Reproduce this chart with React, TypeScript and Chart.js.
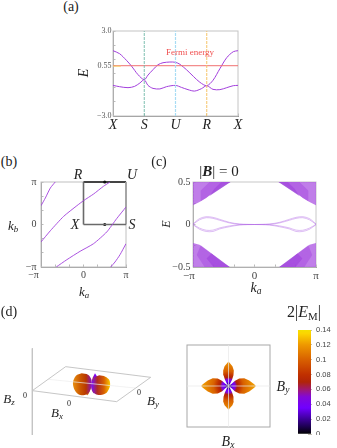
import React, { useEffect, useRef } from "react";
import { Chart, registerables } from "chart.js";

Chart.register(...registerables);

const PI = Math.PI;
const SERIF = '"Liberation Serif", "DejaVu Serif", serif';
const SANS = '"Liberation Sans", sans-serif';
const PURPLE = "#a23fdc";

/* ---------- panel (a) ---------- */
const pathLabels = ["X", "S", "U", "R", "X"];
const pathTicks = [0, 1, 2, 3, 4];
const energyTicks = [-3, -2, -1, 0, 0.55, 1, 2, 3];
const energyLabelled = [-3, 0.55, 3];
const fermi = 0.55;
const upperT = [0, 0.21, 0.43, 0.59, 0.8, 1, 1.12, 1.28, 1.44, 1.6, 1.82, 2, 2.14, 2.35, 2.57, 2.78, 3, 3.2, 3.42, 3.64, 3.85, 4];
const upperE = [1.61, 1.4, 0.93, 0.53, -0.08, -0.44, -0.11, 0.27, 0.62, 0.76, 0.81, 0.79, 0.65, 0.27, -0.2, -0.62, -0.86, -0.48, 0.34, 1.12, 1.54, 1.61];
const lowerT = [0, 0.21, 0.48, 0.69, 0.86, 1, 1.12, 1.28, 1.5, 1.71, 2, 2.19, 2.4, 2.61, 2.83, 3, 3.2, 3.42, 3.64, 3.85, 4];
const lowerE = [-0.84, -0.93, -1, -0.91, -0.67, -0.44, -0.84, -1.05, -1.09, -0.93, -0.84, -0.98, -1.14, -1.24, -1.07, -0.86, -1.12, -1.14, -1, -0.86, -0.84];

/* ---------- panel (b) ---------- */
const kTicks = [-PI, (-2 * PI) / 3, -PI / 3, 0, PI / 3, (2 * PI) / 3, PI];
const curve1A = [-3.14, -2.82, -2.45, -2.09];
const curve1B = [1.39, 1.96, 2.7, 3.14];
const curve2A = [-3.14, -2.45, -1.47, -0.49, 0, 0.74, 1.47, 1.96];
const curve2B = [-1.29, -0.46, 0.6, 1.39, 1.76, 2.25, 2.82, 3.14];
const curve3A = [-2.01, -1.23, -0.25, 0.74, 1.72, 2.45, 3.14];
const curve3B = [-3.14, -2.6, -1.98, -1.42, -0.55, 0.43, 1.29];
const curve4A = [2.01, 2.33, 2.7, 3.14];
const curve4B = [-3.14, -2.77, -2.23, -1.42];

/* ---------- panel (c) ---------- */
const cEnergyTicks = [-0.5, -0.25, 0, 0.25, 0.5];
const topEdgeK = [-3.1416, -2.81, -2.465, -2.12, -1.78, -1.52, -1.23];
const topEdgeE = [0.225, 0.265, 0.312, 0.378, 0.437, 0.476, 0.5];
const botEdgeK = [-3.1416, -2.81, -2.465, -2.12, -1.78, -1.27];
const botEdgeE = [-0.218, -0.237, -0.296, -0.355, -0.433, -0.5];
const topMidK = [-2.75, -1.23, -2.3, -2.75];
const topMidE = [0.275, 0.5, 0.5, 0.4];
const topDarkK = [-2.3, -1.23, -1.7, -2.05];
const topDarkE = [0.335, 0.5, 0.5, 0.42];
const botMidK = [-2.75, -1.27, -2.55, -2.95];
const botMidE = [-0.245, -0.5, -0.5, -0.36];
const botDarkK = [-2.2, -1.27, -2.1, -2.45];
const botDarkE = [-0.34, -0.5, -0.5, -0.4];
const speckK = [-3.1416, -2.6, -2.1, -1.6];
const speckTop = [
  [0.25, 0.32, 0.42, 0.5],
  [0.29, 0.35, 0.45, 0.5],
  [0.32, 0.38, 0.47, 0.5],
  [0.36, 0.42, 0.5, 0.5],
  [0.4, 0.45, 0.5, 0.5],
  [0.44, 0.48, 0.5, 0.5],
  [0.47, 0.5, 0.5, 0.5],
];
const speckBot = [
  [-0.24, -0.3, -0.41, -0.5],
  [-0.28, -0.33, -0.44, -0.5],
  [-0.31, -0.36, -0.47, -0.5],
  [-0.35, -0.4, -0.5, -0.5],
  [-0.39, -0.44, -0.5, -0.5],
  [-0.43, -0.47, -0.5, -0.5],
  [-0.47, -0.5, -0.5, -0.5],
];
const edgeK = [-3.1416, -2.81, -2.465, -2.12, -1.78, -1.27, -0.753, 0];
const edgeUpperOuter = [0.006, 0.069, 0.092, 0.084, 0.061, 0.025, 0.006, 0];
const edgeUpperInner = [0.002, 0.055, 0.08, 0.072, 0.05, 0.018, 0.002, 0];
const edgeLowerOuter = [-0.002, -0.056, -0.082, -0.082, -0.052, -0.026, -0.006, 0];
const edgeLowerInner = [0.002, -0.042, -0.068, -0.066, -0.04, -0.016, -0.002, 0];

/* ---------- colour scale ---------- */
const scaleValues = [0, 0.01, 0.02, 0.035, 0.05, 0.06, 0.07, 0.08, 0.1, 0.12, 0.135, 0.14];
const scaleColours = ["#000000", "#1c0050", "#3c0098", "#7000ff", "#8208d8", "#a01870", "#b02408", "#c03000", "#d86000", "#ee9800", "#fcd400", "#f4e000"];
const scaleTicks = [0, 0.02, 0.04, 0.06, 0.08, 0.1, 0.12, 0.14];
const scaleTop = 0.14;

/* ---------- panel (d), top view ---------- */
const petalRightX = [0, 0.07, 0.15, 0.258, 0.38, 0.5, 0.62, 0.66, 0.62, 0.5, 0.38, 0.258, 0.15, 0.07, 0];
const petalRightY = [0, -0.05, -0.125, -0.18, -0.19, -0.135, -0.04, 0, 0.04, 0.135, 0.19, 0.18, 0.125, 0.05, 0];
const petalLeftX = petalRightX.map((v) => -v);
const petalLeftY = petalRightY;
const petalTopX = [0, -0.045, -0.085, -0.12, -0.128, -0.095, -0.03, 0, 0.03, 0.095, 0.128, 0.12, 0.085, 0.045, 0];
const petalTopY = [0, 0.07, 0.15, 0.26, 0.38, 0.48, 0.56, 0.6, 0.56, 0.48, 0.38, 0.26, 0.15, 0.07, 0];
const petalBotX = petalTopX;
const petalBotY = [0, -0.07, -0.15, -0.26, -0.38, -0.47, -0.54, -0.58, -0.54, -0.47, -0.38, -0.26, -0.15, -0.07, 0];
const radialEnergy = [0, 0.02, 0.035, 0.05, 0.07, 0.08, 0.1, 0.12];
const radialDistance = [0, 0.05, 0.11, 0.16, 0.21, 0.26, 0.36, 0.6];

/* ---------- panel (d), perspective view ---------- */
const planeX = [97, 197, 452, 350, 97];
const planeY = [272, 200, 232, 305, 272];
const axisZX = [97, 97];
const axisZY = [145, 405];
const faintAX = [145, 405];
const faintAY = [238, 264];
const lobeLX = [245, 228, 219, 222, 233, 250, 266, 274, 274, 264];
const lobeLY = [220, 227, 246, 266, 281, 286, 278, 258, 238, 224];
const lobeRX = [298, 282, 274, 276, 286, 302, 320, 330, 328, 316];
const lobeRY = [226, 234, 252, 270, 282, 285, 278, 258, 240, 230];
const coreX = [285, 277, 274, 276, 283, 291, 293, 292];
const coreY = [220, 236, 256, 272, 280, 270, 250, 232];
const frontX = [262, 254, 251, 254, 262, 270, 274, 270];
const frontY = [232, 245, 260, 274, 286, 272, 258, 244];

/* ---------- helpers ---------- */
const pts = (xs: number[], ys: number[]) => xs.map((x, i) => ({ x, y: ys[i] }));
const neg = (xs: number[]) => xs.map((v) => -v);

function colourAt(v: number) {
  const i = scaleValues.findIndex((s) => s >= v);
  return scaleColours[i < 0 ? scaleColours.length - 1 : i];
}

const frame = {
  id: "frame",
  beforeDatasetsDraw(chart: any, _a: any, opts: any) {
    if (!opts.color) return;
    const { left, top, right, bottom } = chart.chartArea;
    const ctx = chart.ctx;
    ctx.save();
    ctx.strokeStyle = opts.color;
    ctx.lineWidth = opts.width ?? 1;
    ctx.strokeRect(left, top, right - left, bottom - top);
    ctx.restore();
  },
};
Chart.register(frame);

function axis(o: any) {
  const horiz = o.pos === "bottom";
  return {
    type: "linear",
    position: o.pos,
    min: o.min,
    max: o.max,
    reverse: !!o.reverse,
    display: o.display ?? true,
    afterBuildTicks: (s: any) => {
      s.ticks = o.ticks.map((value: number) => ({ value }));
    },
    afterFit: (s: any) => {
      if (horiz) s.height = o.thick;
      else s.width = o.thick;
      s.paddingLeft = s.paddingRight = s.paddingTop = s.paddingBottom = 0;
    },
    border: { color: o.border ?? "#999", width: o.borderWidth ?? 1 },
    grid: { drawOnChartArea: false, tickLength: -2.5, color: "#aaa", tickWidth: 0.8 },
    ticks: {
      autoSkip: false,
      maxRotation: 0,
      minRotation: 0,
      padding: o.padding ?? 5,
      color: o.color ?? "#444",
      font: { family: o.family ?? SERIF, size: o.size ?? 8, style: o.style ?? "normal" },
      callback: o.label,
    },
  };
}

function options(x: any, y: any, padding: any, framing: any) {
  return {
    responsive: false,
    maintainAspectRatio: false,
    animation: false,
    layout: { padding },
    plugins: { legend: { display: false }, tooltip: { enabled: false }, title: { display: false }, frame: framing },
    elements: { point: { radius: 0 } },
    scales: { x, y },
  };
}

const piLabel = (pad: string) => (v: number) => {
  if (Math.abs(v + PI) < 1e-6) return "\u2212\u03c0" + pad;
  if (Math.abs(v) < 1e-6) return "0";
  if (Math.abs(v - PI) < 1e-6) return "\u03c0";
  return "";
};

const line = (data: any[], color: string, width: number, extra: any = {}) => ({
  type: "scatter",
  data,
  showLine: true,
  borderColor: color,
  borderWidth: width,
  pointRadius: 0,
  ...extra,
});

const shape = (data: any[], fill: any, extra: any = {}) => ({
  type: "scatter",
  data,
  showLine: true,
  borderWidth: 0,
  borderColor: "transparent",
  backgroundColor: fill,
  fill: "shape",
  pointRadius: 0,
  ...extra,
});

/* ---------- chart configurations ---------- */
const configA = () => ({
  type: "scatter",
  data: {
    datasets: [
      line(pts([0, 0.25], [fermi - 0.03, fermi - 0.03]), "#f5d060", 1),
      line(pts([1, 1], [-3, 3]), "#6fb8a8", 0.9, { borderDash: [3, 1] }),
      line(pts([2, 2], [-3, 3]), "#a8dcf4", 1.2, { borderDash: [3, 1] }),
      line(pts([3, 3], [-3, 3]), "#f6c468", 1, { borderDash: [3, 1] }),
      line(pts([0, 4], [fermi, fermi]), "#f07070", 1),
      line(pts(upperT, upperE), PURPLE, 1, { tension: 0.3 }),
      line(pts(lowerT, lowerE), PURPLE, 1, { tension: 0.3 }),
    ],
  },
  options: options(
    axis({
      pos: "bottom", min: 0, max: 4, ticks: pathTicks, thick: 16, size: 14, style: "italic", color: "#222", padding: 3,
      label: (_v: number, i: number) => pathLabels[i], border: "#888",
    }),
    axis({
      pos: "left", min: -3, max: 3, ticks: energyTicks, thick: 28, size: 8, padding: 4, color: "#555",
      label: (v: number) => (energyLabelled.includes(v) ? (v < 0 ? "\u2212" + Math.abs(v).toFixed(1) : v === fermi ? String(v) : v.toFixed(1)) : ""),
    }),
    { left: 0, right: 12, top: 6, bottom: 0 },
    { color: "#c4c4c4" }
  ),
});

const configB = () => ({
  type: "scatter",
  data: {
    datasets: [
      line(pts(curve1A, curve1B), PURPLE, 0.9, { tension: 0.2 }),
      line(pts(curve2A, curve2B), PURPLE, 0.9, { tension: 0.2 }),
      line(pts(curve3A, curve3B), PURPLE, 0.9, { tension: 0.2 }),
      line(pts(curve4A, curve4B), PURPLE, 0.9, { tension: 0.2 }),
      line(pts([0, 0], [0, PI]), "#6a6a6a", 1.6, { clip: false }),
      line(pts([0, PI], [0, 0]), "#6a6a6a", 1.6, { clip: false }),
      line(pts([PI, PI], [0, PI]), "#a0a0a0", 1.8, { clip: false }),
      line(pts([0, PI], [PI, PI]), "#111", 1.4, { clip: false }),
      {
        type: "scatter",
        data: pts([PI / 2, PI / 2], [PI, 0]),
        pointRadius: 1.6,
        pointBackgroundColor: "#111",
        pointBorderWidth: 0,
        clip: false,
      },
    ],
  },
  options: options(
    axis({ pos: "bottom", min: -PI, max: PI, ticks: kTicks, thick: 16, size: 10, padding: 5, label: piLabel("      ") }),
    axis({ pos: "left", min: -PI, max: PI, ticks: kTicks, thick: 20, size: 10, padding: 7, label: piLabel("") }),
    { left: 0, right: 8, top: 6, bottom: 0 },
    { color: "#c0c0c0", width: 1 }
  ),
});

const SOFT = "rgba(168,76,224,0.72)";
const MID = "rgba(150,50,215,0.45)";
const DARK = "rgba(130,30,205,0.6)";
const WHITE = "rgba(255,255,255,0.42)";
const EDGE = "rgba(176,100,228,0.7)";

const configC = () => {
  const speck = (k: number[], rows: number[][]) =>
    rows.map((r) => line(pts(k, r), WHITE, 0.8, { borderDash: [1, 1.6] }));
  const closeTop = (k: number[], e: number[]) => pts([...k, k[k.length - 1], k[0], k[0]], [...e, 0.5, 0.5, e[0]]);
  const closeBot = (k: number[], e: number[]) => pts([...k, k[k.length - 1], k[0], k[0]], [...e, -0.5, -0.5, e[0]]);
  const edge = { tension: 0.3 };
  return {
    type: "scatter",
    data: {
      datasets: [
        shape(closeTop(topEdgeK, topEdgeE), SOFT),
        shape(closeTop(neg(topEdgeK), topEdgeE), SOFT),
        shape(closeBot(botEdgeK, botEdgeE), SOFT),
        shape(closeBot(neg(botEdgeK), botEdgeE), SOFT),
        shape(pts(topMidK, topMidE), MID),
        shape(pts(neg(topMidK), topMidE), MID),
        shape(pts(botMidK, botMidE), MID),
        shape(pts(neg(botMidK), botMidE), MID),
        shape(pts(topDarkK, topDarkE), DARK),
        shape(pts(neg(topDarkK), topDarkE), DARK),
        shape(pts(botDarkK, botDarkE), DARK),
        shape(pts(neg(botDarkK), botDarkE), DARK),
        ...speck(speckK, speckTop),
        ...speck(neg(speckK), speckTop),
        ...speck(speckK, speckBot),
        ...speck(neg(speckK), speckBot),
        line(pts(edgeK, edgeUpperOuter), EDGE, 0.6, edge),
        line(pts(edgeK, edgeUpperInner), EDGE, 0.6, edge),
        line(pts(edgeK, edgeLowerOuter), EDGE, 0.6, edge),
        line(pts(edgeK, edgeLowerInner), EDGE, 0.6, edge),
        line(pts(neg(edgeK), edgeUpperOuter), EDGE, 0.6, edge),
        line(pts(neg(edgeK), edgeUpperInner), EDGE, 0.6, edge),
        line(pts(neg(edgeK), edgeLowerOuter), EDGE, 0.6, edge),
        line(pts(neg(edgeK), edgeLowerInner), EDGE, 0.6, edge),
      ],
    },
    options: options(
      axis({ pos: "bottom", min: -PI, max: PI, ticks: kTicks, thick: 16, size: 11, padding: 5, label: piLabel("   ") }),
      axis({
        pos: "left", min: -0.5, max: 0.5, ticks: cEnergyTicks, thick: 32, size: 10, padding: 5,
        label: (v: number) => (v === 0 ? "0" : v === 0.5 ? "0.5" : v === -0.5 ? "\u22120.5" : ""),
      }),
      { left: 0, right: 8, top: 6, bottom: 0 },
      { color: "#c8c8c8" }
    ),
  };
};

const radialFill = (c: any) => {
  const { chart } = c;
  const area = chart.chartArea;
  if (!area) return "#c05000";
  const sx = chart.scales.x;
  const sy = chart.scales.y;
  const cx = sx.getPixelForValue(0);
  const cy = sy.getPixelForValue(0);
  const unit = sx.getPixelForValue(1) - cx;
  const outer = radialDistance[radialDistance.length - 1];
  const g = chart.ctx.createRadialGradient(cx, cy, 0, cx, cy, outer * unit);
  radialDistance.forEach((d, i) => g.addColorStop(d / outer, colourAt(radialEnergy[i])));
  return g;
};

const configTop = () => ({
  type: "scatter",
  data: {
    datasets: [
      line(pts([-1, 1], [0, 0]), "#e8e8e8", 0.7),
      line(pts([0, 0], [-1, 1]), "#e8e8e8", 0.7),
      shape(pts(petalRightX, petalRightY), radialFill),
      shape(pts(petalLeftX, petalLeftY), radialFill),
      shape(pts(petalTopX, petalTopY), radialFill),
      shape(pts(petalBotX, petalBotY), radialFill),
    ],
  },
  options: options(
    axis({ pos: "bottom", min: -1, max: 1, ticks: [], thick: 0, label: () => "", display: false }),
    axis({ pos: "left", min: -1, max: 1, ticks: [], thick: 0, label: () => "", display: false }),
    { left: 1, right: 1, top: 1, bottom: 1 },
    { color: "#a8a8a8", width: 1 }
  ),
});

const linearFill = (stopsX: number[], stopsC: string[]) => (c: any) => {
  const { chart } = c;
  if (!chart.chartArea) return stopsC[0];
  const sx = chart.scales.x;
  const a = sx.getPixelForValue(stopsX[0]);
  const b = sx.getPixelForValue(stopsX[stopsX.length - 1]);
  const g = chart.ctx.createLinearGradient(a, 0, b, 0);
  stopsX.forEach((v, i) => g.addColorStop((v - stopsX[0]) / (stopsX[stopsX.length - 1] - stopsX[0]), stopsC[i]));
  return g;
};

const loop = (xs: number[], ys: number[]) => pts([...xs, xs[0]], [...ys, ys[0]]);

const config3D = () => ({
  type: "scatter",
  data: {
    datasets: [
      line(pts(axisZX, axisZY), "#c4c4c4", 1),
      line(pts(planeX, planeY), "#b8b8b8", 0.8),
      line(pts(faintAX, faintAY), "#ececec", 0.7),
      shape(loop(lobeLX, lobeLY), linearFill([219, 240, 258, 274], ["#e88e10", "#cc5a00", "#b83800", "#8a10c0"]), { tension: 0.3 }),
      shape(loop(lobeRX, lobeRY), linearFill([276, 292, 312, 330], ["#7a10f0", "#b02c20", "#d86000", "#fcc800"]), { tension: 0.3 }),
      shape(loop(coreX, coreY), linearFill([274, 285, 293], ["#c04010", "#7a00ff", "#7a10e0"]), { tension: 0.3 }),
      shape(loop(frontX, frontY), linearFill([251, 262, 274], ["#d06a10", "#d87a10", "#b04010"]), { tension: 0.3 }),
    ],
  },
  options: options(
    axis({ pos: "bottom", min: 0, max: 510, ticks: [], thick: 0, label: () => "", display: false }),
    axis({ pos: "left", min: 0, max: 444, ticks: [], thick: 0, label: () => "", display: false, reverse: true }),
    0,
    {}
  ),
});

const configBar = () => ({
  type: "bar",
  data: {
    labels: ["2|E_M|"],
    datasets: [
      {
        data: [scaleTop],
        barPercentage: 1,
        categoryPercentage: 1,
        borderWidth: 0,
        backgroundColor: (c: any) => {
          const { chart } = c;
          if (!chart.chartArea) return "#800080";
          const sy = chart.scales.y;
          const g = chart.ctx.createLinearGradient(0, sy.getPixelForValue(0), 0, sy.getPixelForValue(scaleTop));
          scaleValues.forEach((v, i) => g.addColorStop(v / scaleTop, scaleColours[i]));
          return g;
        },
      },
    ],
  },
  options: {
    responsive: false,
    maintainAspectRatio: false,
    animation: false,
    layout: { padding: { left: 0, right: 0, top: 4, bottom: 1 } },
    plugins: { legend: { display: false }, tooltip: { enabled: false } },
    scales: {
      x: { display: false },
      y: {
        position: "right",
        min: 0,
        max: scaleTop,
        afterBuildTicks: (s: any) => {
          s.ticks = scaleTicks.map((value) => ({ value }));
        },
        afterFit: (s: any) => {
          s.width = 26;
          s.paddingTop = s.paddingBottom = 0;
        },
        border: { display: true, color: "rgba(0,0,0,0)" },
        grid: { drawOnChartArea: false, drawTicks: true, tickLength: -3, color: "rgba(60,40,0,0.45)", tickWidth: 0.7 },
        ticks: {
          autoSkip: false,
          padding: 8,
          color: "#444",
          font: { family: SANS, size: 7.5 },
          callback: (v: number) => String(v),
        },
      },
    },
  },
});

/* ---------- components ---------- */
function Plot({ left, top, width, height, make }: any) {
  const ref = useRef<HTMLCanvasElement>(null);
  useEffect(() => {
    const chart = new Chart(ref.current as any, make());
    return () => chart.destroy();
  }, []);
  return <canvas ref={ref} width={width} height={height} style={{ position: "absolute", left, top, width, height }} />;
}

function T({ x, y, size = 12, color = "#222", rotate = 0, children }: any) {
  return (
    <span
      style={{
        position: "absolute",
        left: x,
        top: y,
        transform: `translate(-50%, -50%) rotate(${rotate}deg)`,
        fontFamily: SERIF,
        fontSize: size,
        color,
        whiteSpace: "nowrap",
        lineHeight: 1,
      }}
    >
      {children}
    </span>
  );
}

const Sub = ({ children }: any) => (
  <sub style={{ fontSize: "0.68em", lineHeight: 0, verticalAlign: "-0.25em" }}>{children}</sub>
);

export default function App() {
  return (
    <div style={{ position: "absolute", left: 0, top: 0, width: 337, height: 448, overflow: "hidden", background: "#fff" }}>
      <Plot left={85} top={25} width={165} height={107} make={configA} />
      <Plot left={21} top={176} width={113} height={107} make={configB} />
      <Plot left={161} top={176} width={163} height={107} make={configC} />
      <Plot left={0} top={300} width={170} height={148} make={config3D} />
      <Plot left={186} top={344} width={85} height={84} make={configTop} />
      <Plot left={298} top={326} width={39} height={109} make={configBar} />

      <T x={71} y={7} size={14}>(a)</T>
      <T x={84} y={73} size={14} rotate={-90}><i>E</i></T>
      <T x={190} y={52} size={9} color="#f05050">Fermi energy</T>

      <T x={9} y={162} size={14}>(b)</T>
      <T x={78} y={175} size={14}><i>R</i></T>
      <T x={132} y={175} size={14}><i>U</i></T>
      <T x={75} y={225} size={14}><i>X</i></T>
      <T x={132} y={225} size={14}><i>S</i></T>
      <T x={13} y={225} size={13}><i>k</i><Sub><i>b</i></Sub></T>
      <T x={84} y={291} size={13}><i>k</i><Sub><i>a</i></Sub></T>

      <T x={159} y={162} size={14}>(c)</T>
      <T x={219} y={171} size={15}>|<b><i>B</i></b>| = 0</T>
      <T x={166} y={224} size={12} rotate={-90}><i>E</i></T>
      <T x={256} y={288} size={14}><i>k</i><Sub><i>a</i></Sub></T>

      <T x={9} y={312} size={14}>(d)</T>
      <T x={9} y={398} size={13}><i>B</i><Sub><i>z</i></Sub></T>
      <T x={25} y={396} size={8}>0</T>
      <T x={57} y={412} size={13}><i>B</i><Sub><i>x</i></Sub></T>
      <T x={69} y={404} size={8}>0</T>
      <T x={153} y={400} size={13}><i>B</i><Sub><i>y</i></Sub></T>
      <T x={139} y={393} size={8}>0</T>
      <T x={228} y={442} size={14}><i>B</i><Sub><i>x</i></Sub></T>
      <T x={283} y={387} size={14}><i>B</i><Sub><i>y</i></Sub></T>
      <T x={304} y={312} size={16}>2|<i>E</i><Sub>M</Sub>|</T>
    </div>
  );
}
